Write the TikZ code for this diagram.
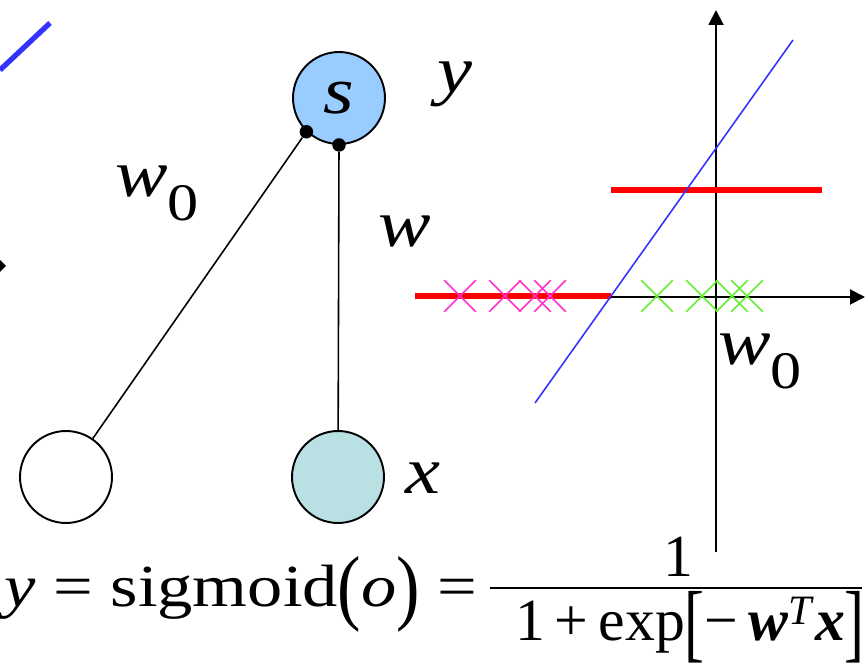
\documentclass[tikz,border=0pt]{standalone}
\usepackage{fontspec}
\setmainfont{Liberation Serif}
\usetikzlibrary{positioning,calc}
\usetikzlibrary{arrows.meta,shapes.misc}
\definecolor{SumBlue}{RGB}{153,204,255}
\definecolor{InTeal}{RGB}{185,224,227}
\definecolor{LineBlue}{RGB}{51,51,255}
\definecolor{ThrRed}{RGB}{255,0,0}
\definecolor{NegPink}{RGB}{255,51,204}
\definecolor{PosGreen}{RGB}{102,238,51}
\newcommand{\bigtxt}{\fontsize{38}{40}\selectfont}
\newcommand{\eqtxt}{\fontsize{34}{36}\selectfont}
\newcommand{\wide}[1]{\scalebox{1.18}[1]{#1}}
\newcommand{\wnull}{\wide{\textit{w}\raisebox{-.36em}{\fontsize{30}{32}\selectfont 0}}}
\newcommand{\tallbr}[1]{\raisebox{-.2em}{\scalebox{1}[1.45]{#1}}}
\tikzset{
  neuron/.style={circle,draw=black,line width=1.1pt,minimum size=1.84cm,inner sep=0pt,font=\bigtxt},
  pin/.style={circle,fill=black,minimum size=.27cm,inner sep=0pt},
  link/.style={draw=black,line width=.9pt},
  lbl/.style={font=\bigtxt,inner sep=0pt},
  axis/.style={draw=black,line width=1.1pt,-{Triangle[length=.3cm,width=.3cm]}},
  thresh/.style={draw=ThrRed,line width=3.4pt},
  negx/.style={cross out,draw=NegPink,line width=.9pt,minimum size=.6cm,inner sep=0pt},
  posx/.style={cross out,draw=PosGreen,line width=.9pt,minimum size=.6cm,inner sep=0pt},
}
\begin{document}
\begin{tikzpicture}[x=0.02cm,y=-0.02cm]
\useasboundingbox (0,0) rectangle (865,665);
% leftovers at the left edge
\draw[LineBlue,line width=3pt] (0,70)--(50,23);
\fill (0,260)--(6,266)--(0,272)--cycle;
% network
\node[neuron,fill=SumBlue] (s) at (339,98) {\wide{\textit{s}}};
\node[neuron,fill=white] (b) at (66,477) {};
\node[neuron,fill=InTeal] (x) at (338,477) {};
\node[pin] (pb) at (s.226) {};
\node[pin] (px) at (s.south) {};
\draw[link] (pb)--(b);
\draw[link] (px)--(x);
\node[lbl] (ly) at (455,84) {\wide{\textit{y}}};
\node[lbl] (lw0) at (157,193) {\wnull};
\node[lbl] (lw) at (405,232) {\wide{\textit{w}}};
\node[lbl] (lx) at (423,478) {\wide{\textit{x}}};
% plot
\coordinate (o) at (716,297);
\coordinate (ybot) at (716,552);
\coordinate (ytop) at (716,10);
\coordinate (xl) at (415,297);
\coordinate (xr) at (865,297);
\draw[axis] (ybot)--(ytop);
\draw[axis] (xl)--(xr);
\coordinate (t0) at (415,296);
\coordinate (t1) at (611,296);
\coordinate (t2) at (611,190);
\coordinate (t3) at (822,190);
\draw[thresh] (t0)--(t1);
\draw[thresh] (t2)--(t3);
\coordinate (l0) at (535,403);
\coordinate (l1) at (793,40);
\draw[LineBlue,line width=.9pt] (l0)--(l1);
\foreach \cx [count=\i] in {460,505,535,550} \node[negx] (n\i) at (\cx,296) {};
\foreach \cx [count=\i] in {657,702,732,747} \node[posx] (p\i) at (\cx,296) {};
\node[lbl] (lw0b) at (760,361) {\wnull};
% formula
\node[font=\eqtxt,inner sep=0pt,anchor=base west] (lhs) at (4,606)
  {\wide{\textit{y} = sigmoid\raisebox{-.14em}{\scalebox{1}[1.4]{(}}\textit{o}\raisebox{-.14em}{\scalebox{1}[1.4]{)}} =}};
\coordinate (bl) at (490,588);
\coordinate (br) at (862,588);
\draw[line width=1.1pt] (bl)--(br);
\node[font=\eqtxt,inner sep=0pt,anchor=base] (num) at (678,576) {1};
\node[font=\eqtxt,inner sep=0pt,anchor=base] (den) at (690,640)
  {1\,+\,exp\tallbr{[}−\,\textbf{\textit{w}}\textsuperscript{\textit{T}}\textbf{\textit{x}}\tallbr{]}};
\end{tikzpicture}
\end{document}
